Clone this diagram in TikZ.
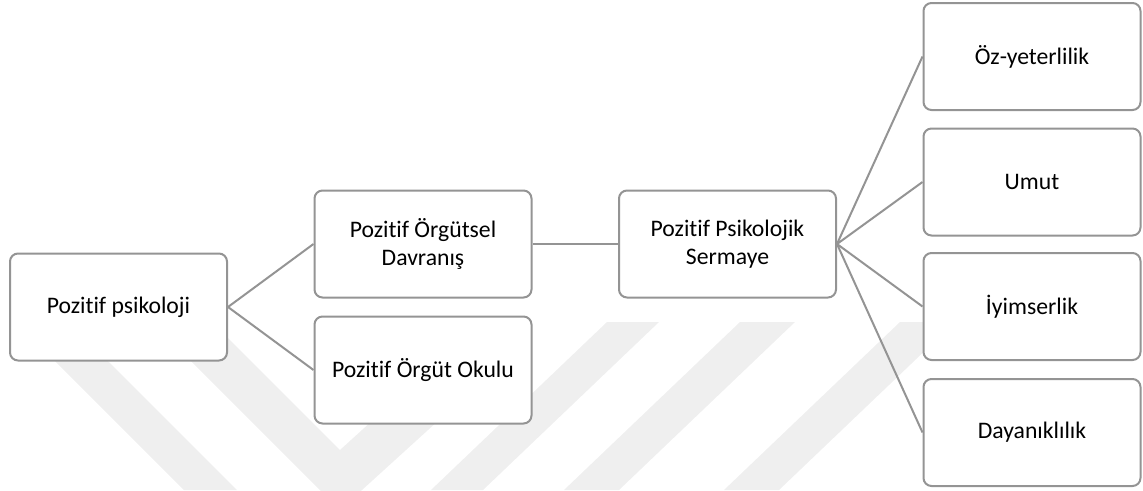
\documentclass[tikz,border=0pt]{standalone}
\usepackage{fontspec}
\setmainfont{Carlito}[RawFeature={-liga;-clig;-dlig;-calt}]
\definecolor{boxline}{RGB}{148,148,148}
\definecolor{wmark}{RGB}{239,239,239}
\tikzset{
  box/.style={draw=boxline, line width=2pt, rounded corners=8pt, fill=white,
    minimum width=217pt, minimum height=107pt, inner sep=2pt, align=center,
    font=\fontsize{23.7}{28.5}\selectfont, text=black},
  link/.style={draw=boxline, line width=2pt},
  wm/.style={fill=wmark, draw=none}
}
\begin{document}
\begin{tikzpicture}[x=1pt,y=-1pt]
\useasboundingbox (0,0) rectangle (1143,490);
% faint background watermark
\fill[wm] (24,330) -- (77,330) -- (237,490) -- (184,490) -- cycle;
\fill[wm] (160,330) -- (220,330) -- (340,450) -- (395,400) -- (461,400) -- (340,510) -- cycle;
\fill[wm] (607,322) -- (659,322) -- (483,490) -- (431,490) -- cycle;
\fill[wm] (740,322) -- (795,322) -- (619,490) -- (564,490) -- cycle;
\fill[wm] (900,322) -- (955,322) -- (779,490) -- (724,490) -- cycle;
% nodes
\node[box] (pp) at (118.5,307) {Pozitif psikoloji};
\node[box] (pod) at (423,244) {Pozitif Örgütsel\\Davranış};
\node[box] (poo) at (423,370) {Pozitif Örgüt Okulu};
\node[box] (pps) at (727.5,244) {Pozitif Psikolojik\\Sermaye};
\node[box] (oz) at (1032,56.5) {Öz-yeterlilik};
\node[box] (um) at (1032,182) {Umut};
\node[box] (iy) at (1032,306.5) {İyimserlik};
\node[box] (da) at (1032,432.5) {Dayanıklılık};
% connectors
\draw[link] (pp.east) -- (pod.west);
\draw[link] (pp.east) -- (poo.west);
\draw[link] (pod.east) -- (pps.west);
\draw[link] (pps.east) -- (oz.west);
\draw[link] (pps.east) -- (um.west);
\draw[link] (pps.east) -- (iy.west);
\draw[link] (pps.east) -- (da.west);
\end{tikzpicture}
\end{document}
